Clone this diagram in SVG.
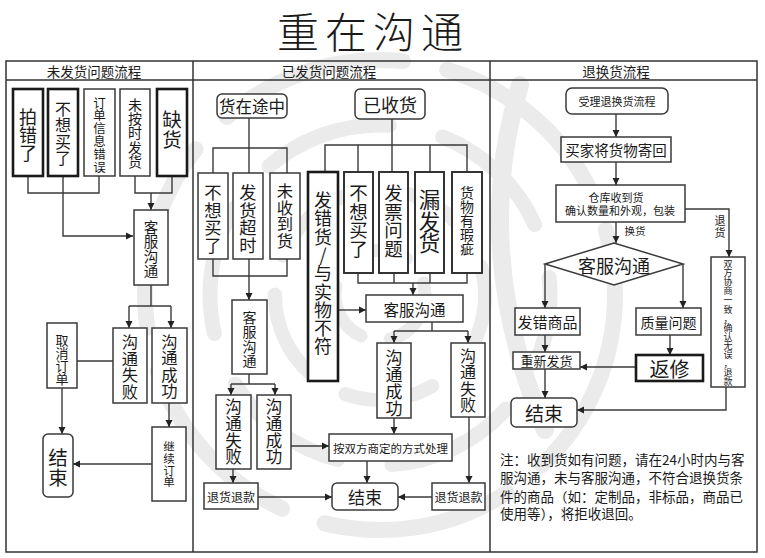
<svg xmlns="http://www.w3.org/2000/svg" width="765" height="558" viewBox="0 0 765 558">
<style>
.t{font-family:"Noto Sans CJK SC","Noto Sans",sans-serif;text-anchor:middle;dominant-baseline:central;fill:#1a1a1a}
.n{font-family:"Noto Sans CJK SC","Noto Sans",sans-serif;fill:#1a1a1a}
.b{fill:#fff;stroke:#3a3a3a;stroke-width:1.5}
.bm{fill:#fff;stroke:#2a2a2a;stroke-width:1.9}
.bk{fill:#fff;stroke:#1a1a1a;stroke-width:2.6}
.c{fill:none;stroke:#3a3a3a;stroke-width:1.4}
.a{fill:none;stroke:#3a3a3a;stroke-width:1.4;marker-end:url(#ah)}
.f{fill:none;stroke:#333;stroke-width:1.5}
.w{fill:none;stroke:#ebebeb;stroke-linecap:round}
</style>
<defs>
<marker id="ah" markerUnits="userSpaceOnUse" markerWidth="8" markerHeight="8" refX="7" refY="4" orient="auto">
<path d="M0,0.5 L7,4 L0,7.5 z" fill="#222"/>
</marker>
</defs>
<rect width="765" height="558" fill="#fff"/>
<g id="watermark">
<circle class="w" cx="380" cy="295" r="235" stroke-width="16" stroke-dasharray="190 45"/>
<circle class="w" cx="380" cy="295" r="170" stroke-width="15" stroke-dasharray="130 55" stroke-dashoffset="60"/>
<circle class="w" cx="380" cy="295" r="105" stroke-width="14" stroke-dasharray="90 40" stroke-dashoffset="20"/>
<circle class="w" cx="380" cy="295" r="45" stroke-width="13" stroke-dasharray="60 30"/>
<path class="w" d="M520 85 Q470 250 545 430" stroke-width="18"/>
</g>
<g id="title"><text class="t" x="373" y="29" font-size="42" font-weight="300" letter-spacing="6">重在沟通</text></g>
<g id="frame">
<rect class="f" x="6" y="61" width="751" height="491"/>
<line class="f" x1="6" y1="80" x2="757" y2="80"/>
<line class="f" x1="193" y1="61" x2="193" y2="552"/>
<line class="f" x1="490" y1="61" x2="490" y2="552"/>
<text class="t" x="94" y="70.5" font-size="13.5">未发货问题流程</text>
<text class="t" x="329" y="70.5" font-size="13.5">已发货问题流程</text>
<text class="t" x="616" y="70.5" font-size="13.5">退换货流程</text>
</g>
<g id="connectors">
<polyline class="c" points="28,176 28,193 99,193 99,176"/>
<polyline class="a" points="63,176 63,236 133,236"/>
<polyline class="c" points="135,176 135,193 172,193 172,176"/>
<line class="a" x1="151" y1="193" x2="151" y2="210"/>
<line class="c" x1="151" y1="285" x2="151" y2="306"/>
<line class="c" x1="129" y1="306" x2="171" y2="306"/>
<line class="a" x1="129" y1="306" x2="129" y2="328"/>
<line class="a" x1="171" y1="306" x2="171" y2="328"/>
<line class="c" x1="113" y1="361" x2="77" y2="361"/>
<line class="a" x1="62" y1="388" x2="62" y2="434"/>
<line class="a" x1="169" y1="403" x2="169" y2="427"/>
<line class="a" x1="152" y1="464" x2="73" y2="464"/>
<line class="c" x1="249" y1="118" x2="249" y2="148"/>
<polyline class="c" points="213,173 213,148 287,148 287,173"/>
<line class="c" x1="249" y1="148" x2="249" y2="173"/>
<polyline class="c" points="213,259 213,276 287,276 287,259"/>
<line class="c" x1="249" y1="259" x2="249" y2="276"/>
<line class="a" x1="249" y1="276" x2="249" y2="300"/>
<line class="c" x1="249" y1="374" x2="249" y2="384"/>
<line class="c" x1="231" y1="384" x2="275" y2="384"/>
<line class="a" x1="231" y1="384" x2="231" y2="395"/>
<line class="a" x1="275" y1="384" x2="275" y2="395"/>
<line class="a" x1="233" y1="469" x2="233" y2="483"/>
<line class="a" x1="258" y1="497" x2="332" y2="497"/>
<line class="a" x1="291" y1="446" x2="329" y2="446"/>
<line class="a" x1="367" y1="461" x2="367" y2="483"/>
<line class="a" x1="432" y1="497" x2="398" y2="497"/>
<line class="c" x1="392" y1="119" x2="392" y2="145"/>
<polyline class="c" points="325,172 325,145 467,145 467,172"/>
<line class="c" x1="358" y1="145" x2="358" y2="172"/>
<line class="c" x1="392" y1="145" x2="392" y2="172"/>
<line class="c" x1="430" y1="145" x2="430" y2="172"/>
<polyline class="c" points="358,273 358,283 467,283 467,273"/>
<line class="c" x1="394" y1="273" x2="394" y2="283"/>
<line class="c" x1="430" y1="273" x2="430" y2="283"/>
<line class="a" x1="413" y1="283" x2="413" y2="295"/>
<line class="a" x1="338" y1="310" x2="366" y2="310"/>
<line class="c" x1="432" y1="322" x2="432" y2="331"/>
<line class="c" x1="394" y1="331" x2="468" y2="331"/>
<line class="a" x1="394" y1="331" x2="394" y2="343"/>
<line class="a" x1="468" y1="331" x2="468" y2="343"/>
<line class="a" x1="394" y1="418" x2="394" y2="434"/>
<line class="a" x1="469" y1="417" x2="469" y2="483"/>
<line class="a" x1="616" y1="114" x2="616" y2="137"/>
<line class="a" x1="616" y1="162" x2="616" y2="185"/>
<line class="a" x1="616" y1="222" x2="616" y2="243"/>
<polyline class="a" points="685,209 729,209 729,257"/>
<line class="a" x1="545" y1="264" x2="545" y2="308"/>
<line class="a" x1="683" y1="264" x2="683" y2="308"/>
<line class="a" x1="545" y1="335" x2="545" y2="352"/>
<line class="a" x1="670" y1="335" x2="670" y2="355"/>
<line class="a" x1="636" y1="367" x2="580" y2="367"/>
<line class="a" x1="545" y1="369" x2="545" y2="398"/>
<polyline class="a" points="726,387 726,410 577,410"/>
<text class="t" x="635" y="230" font-size="10.5">换货</text>
<text class="t" x="720" y="220" font-size="11"><tspan x="720">退</tspan><tspan x="720" dy="11.5">货</tspan></text>
</g>
<g id="n-paicuo"><rect class="bk" x="13" y="89" width="30" height="87"/><text class="t" x="28" y="116" font-size="18"><tspan x="28">拍</tspan><tspan x="28" dy="18">错</tspan><tspan x="28" dy="18">了</tspan></text></g>
<g id="n-buxiang1"><rect class="bk" x="48" y="89" width="30" height="87"/><text class="t" x="63" y="108" font-size="16"><tspan x="63">不</tspan><tspan x="63" dy="16.3">想</tspan><tspan x="63" dy="16.3">买</tspan><tspan x="63" dy="16.3">了</tspan></text></g>
<g id="n-dingdan"><rect class="b" x="84" y="89" width="31" height="87"/><text class="t" x="99.5" y="101.5" font-size="12.5"><tspan x="99.5">订</tspan><tspan x="99.5" dy="12.8">单</tspan><tspan x="99.5" dy="12.8">信</tspan><tspan x="99.5" dy="12.8">息</tspan><tspan x="99.5" dy="12.8">错</tspan><tspan x="99.5" dy="12.8">误</tspan></text></g>
<g id="n-weian"><rect class="b" x="120" y="89" width="30" height="87"/><text class="t" x="135" y="104" font-size="14"><tspan x="135">未</tspan><tspan x="135" dy="14.2">按</tspan><tspan x="135" dy="14.2">时</tspan><tspan x="135" dy="14.2">发</tspan><tspan x="135" dy="14.2">货</tspan></text></g>
<g id="n-quehuo"><rect class="bk" x="157" y="89" width="30" height="87"/><text class="t" x="172" y="118" font-size="19.5"><tspan x="172">缺</tspan><tspan x="172" dy="19.5">货</tspan></text></g>
<g id="n-kefu1"><rect class="b" x="134" y="210" width="34" height="75"/><text class="t" x="151" y="225.5" font-size="14.5"><tspan x="151">客</tspan><tspan x="151" dy="14.8">服</tspan><tspan x="151" dy="14.8">沟</tspan><tspan x="151" dy="14.8">通</tspan></text></g>
<g id="n-shibai1"><rect class="b" x="113" y="328" width="34" height="75"/><text class="t" x="130" y="341" font-size="16.3"><tspan x="130">沟</tspan><tspan x="130" dy="16.5">通</tspan><tspan x="130" dy="16.5">失</tspan><tspan x="130" dy="16.5">败</tspan></text></g>
<g id="n-chenggong1"><rect class="b" x="152" y="328" width="35" height="75"/><text class="t" x="169.5" y="340.5" font-size="16.3"><tspan x="169.5">沟</tspan><tspan x="169.5" dy="16.5">通</tspan><tspan x="169.5" dy="16.5">成</tspan><tspan x="169.5" dy="16.5">功</tspan></text></g>
<g id="n-quxiao"><rect class="b" x="47" y="323" width="30" height="65"/><text class="t" x="62" y="338.5" font-size="13"><tspan x="62">取</tspan><tspan x="62" dy="13.3">消</tspan><tspan x="62" dy="13.3">订</tspan><tspan x="62" dy="13.3">单</tspan></text></g>
<g id="n-jieshu1"><rect class="b" x="43" y="434" width="30" height="63" rx="5"/><text class="t" x="58" y="456" font-size="19.5"><tspan x="58">结</tspan><tspan x="58" dy="20">束</tspan></text></g>
<g id="n-jixu"><rect class="b" x="152" y="427" width="34" height="74"/><text class="t" x="169" y="446" font-size="11.5" fill="#444"><tspan x="169">继</tspan><tspan x="169" dy="11.8">续</tspan><tspan x="169" dy="11.8">订</tspan><tspan x="169" dy="11.8">单</tspan></text></g>
<g id="n-tuzhong"><rect class="b" x="217" y="94" width="70" height="24" rx="5"/><text class="t" x="252" y="106" font-size="16.5">货在途中</text></g>
<g id="n-yishou"><rect class="b" x="355" y="89" width="70" height="30" rx="5"/><text class="t" x="390" y="104" font-size="18">已收货</text></g>
<g id="n-buxiang2"><rect class="b" x="198" y="173" width="30" height="86"/><text class="t" x="213" y="191" font-size="17.3"><tspan x="213">不</tspan><tspan x="213" dy="17.5">想</tspan><tspan x="213" dy="17.5">买</tspan><tspan x="213" dy="17.5">了</tspan></text></g>
<g id="n-chaoshi"><rect class="b" x="233" y="173" width="30" height="86"/><text class="t" x="248" y="191" font-size="17.3"><tspan x="248">发</tspan><tspan x="248" dy="17.5">货</tspan><tspan x="248" dy="17.5">超</tspan><tspan x="248" dy="17.5">时</tspan></text></g>
<g id="n-weishou"><rect class="b" x="270" y="173" width="30" height="86"/><text class="t" x="285" y="190" font-size="16.3"><tspan x="285">未</tspan><tspan x="285" dy="16.5">收</tspan><tspan x="285" dy="16.5">到</tspan><tspan x="285" dy="16.5">货</tspan></text></g>
<g id="n-facuo"><rect class="bk" x="308" y="172" width="30" height="209"/><text class="t" x="323" y="199" font-size="18"><tspan x="323">发</tspan><tspan x="323" dy="18.3">错</tspan><tspan x="323" dy="18.3">货</tspan><tspan x="323" dy="18.3">/</tspan><tspan x="323" dy="18.3">与</tspan><tspan x="323" dy="18.3">实</tspan><tspan x="323" dy="18.3">物</tspan><tspan x="323" dy="18.3">不</tspan><tspan x="323" dy="18.3">符</tspan></text></g>
<g id="n-buxiang3"><rect class="bm" x="344" y="172" width="29" height="101"/><text class="t" x="358.5" y="192" font-size="18.5"><tspan x="358.5">不</tspan><tspan x="358.5" dy="18.7">想</tspan><tspan x="358.5" dy="18.7">买</tspan><tspan x="358.5" dy="18.7">了</tspan></text></g>
<g id="n-fapiao"><rect class="bm" x="379" y="172" width="29" height="101"/><text class="t" x="393.5" y="192" font-size="18.5"><tspan x="393.5">发</tspan><tspan x="393.5" dy="18.7">票</tspan><tspan x="393.5" dy="18.7">问</tspan><tspan x="393.5" dy="18.7">题</tspan></text></g>
<g id="n-loufa"><rect class="bm" x="415" y="172" width="29" height="101"/><text class="t" x="429.5" y="198" font-size="21.5"><tspan x="429.5">漏</tspan><tspan x="429.5" dy="21.7">发</tspan><tspan x="429.5" dy="21.7">货</tspan></text></g>
<g id="n-xiaci"><rect class="bm" x="452" y="172" width="30" height="101"/><text class="t" x="467" y="192" font-size="14"><tspan x="467">货</tspan><tspan x="467" dy="14">物</tspan><tspan x="467" dy="14">有</tspan><tspan x="467" dy="14">瑕</tspan><tspan x="467" dy="14">疵</tspan></text></g>
<g id="n-kefu2"><rect class="b" x="232" y="300" width="35" height="74"/><text class="t" x="249.5" y="317" font-size="14"><tspan x="249.5">客</tspan><tspan x="249.5" dy="14.3">服</tspan><tspan x="249.5" dy="14.3">沟</tspan><tspan x="249.5" dy="14.3">通</tspan></text></g>
<g id="n-shibai2"><rect class="b" x="216" y="395" width="35" height="74"/><text class="t" x="233.5" y="406" font-size="16.5"><tspan x="233.5">沟</tspan><tspan x="233.5" dy="16.8">通</tspan><tspan x="233.5" dy="16.8">失</tspan><tspan x="233.5" dy="16.8">败</tspan></text></g>
<g id="n-chenggong2"><rect class="b" x="257" y="395" width="34" height="74"/><text class="t" x="274" y="406" font-size="16.5"><tspan x="274">沟</tspan><tspan x="274" dy="16.8">通</tspan><tspan x="274" dy="16.8">成</tspan><tspan x="274" dy="16.8">功</tspan></text></g>
<g id="n-tuikuan1"><rect class="b" x="204" y="483" width="54" height="26"/><text class="t" x="231" y="496" font-size="12">退货退款</text></g>
<g id="n-jieshu2"><rect class="b" x="332" y="483" width="66" height="27" rx="5"/><text class="t" x="365" y="496.5" font-size="17">结束</text></g>
<g id="n-shangding"><rect class="b" x="329" y="434" width="123" height="27"/><text class="t" x="390.5" y="447.5" font-size="11.5">按双方商定的方式处理</text></g>
<g id="n-tuikuan2"><rect class="b" x="432" y="483" width="53" height="27"/><text class="t" x="458.5" y="496.5" font-size="12">退货退款</text></g>
<g id="n-kefu3"><rect class="b" x="366" y="295" width="97" height="27"/><text class="t" x="414.5" y="308.5" font-size="15.5">客服沟通</text></g>
<g id="n-chenggong3"><rect class="b" x="377" y="343" width="34" height="75"/><text class="t" x="394" y="355.5" font-size="17"><tspan x="394">沟</tspan><tspan x="394" dy="17">通</tspan><tspan x="394" dy="17">成</tspan><tspan x="394" dy="17">功</tspan></text></g>
<g id="n-shibai3"><rect class="b" x="451" y="343" width="34" height="74"/><text class="t" x="468" y="355" font-size="16"><tspan x="468">沟</tspan><tspan x="468" dy="16.3">通</tspan><tspan x="468" dy="16.3">失</tspan><tspan x="468" dy="16.3">败</tspan></text></g>
<g id="n-shouli"><rect class="b" x="566" y="88" width="102" height="26" rx="6"/><text class="t" x="617" y="101" font-size="11">受理退换货流程</text></g>
<g id="n-jihui"><rect class="b" x="561" y="137" width="110" height="25"/><text class="t" x="616" y="149.5" font-size="14.5">买家将货物寄回</text></g>
<g id="n-cangku"><rect class="b" x="556" y="185" width="129" height="37"/><text class="t" x="616" y="197" font-size="11">仓库收到货</text><text class="t" x="620" y="210" font-size="11">确认数量和外观，包装</text></g>
<g id="n-kefu4"><polygon class="b" points="545,264 614,243 683,264 614,285"/><text class="t" x="614" y="264.5" font-size="18">客服沟通</text></g>
<g id="n-xieshang"><rect class="b" x="711" y="257" width="34" height="130"/><text class="t" x="728" y="263" font-size="9" fill="#333"><tspan x="728">双</tspan><tspan x="728" dy="9.1">方</tspan><tspan x="728" dy="9.1">协</tspan><tspan x="728" dy="9.1">商</tspan><tspan x="728" dy="9.1">一</tspan><tspan x="728" dy="9.1">致</tspan><tspan x="728" dy="9.1">，</tspan><tspan x="728" dy="9.1">确</tspan><tspan x="728" dy="9.1">认</tspan><tspan x="728" dy="9.1">无</tspan><tspan x="728" dy="9.1">误</tspan><tspan x="728" dy="9.1">，</tspan><tspan x="728" dy="9.1">退</tspan><tspan x="728" dy="9.1">款</tspan></text></g>
<g id="n-facuosp"><rect class="b" x="515" y="308" width="65" height="27"/><text class="t" x="547.5" y="321.5" font-size="15">发错商品</text></g>
<g id="n-zhiliang"><rect class="b" x="636" y="308" width="65" height="27"/><text class="t" x="668.5" y="321.5" font-size="14">质量问题</text></g>
<g id="n-chongxin"><rect class="b" x="513" y="352" width="67" height="17"/><text class="t" x="546.5" y="360.5" font-size="13">重新发货</text></g>
<g id="n-fanxiu"><rect class="bk" x="636" y="355" width="67" height="26"/><text class="t" x="669.5" y="368" font-size="20">返修</text></g>
<g id="n-jieshu3"><rect class="b" x="511" y="398" width="66" height="29" rx="5"/><text class="t" x="544" y="412.5" font-size="19">结束</text></g>
<g id="note">
<text class="n" x="500" y="465" font-size="13.5">注：收到货如有问题，请在24小时内与客</text>
<text class="n" x="500" y="483" font-size="13.5">服沟通，未与客服沟通，不符合退换货条</text>
<text class="n" x="500" y="502" font-size="13.5">件的商品（如：定制品，非标品，商品已</text>
<text class="n" x="500" y="519" font-size="13.5">使用等），将拒收退回。</text>
</g>
</svg>
